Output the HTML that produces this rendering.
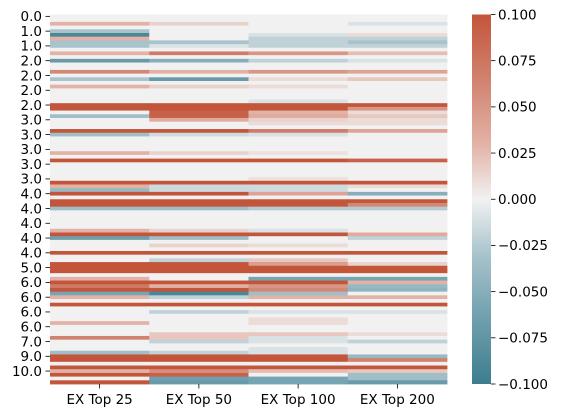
<!DOCTYPE html>
<html><head><meta charset="utf-8"><style>
html,body{margin:0;padding:0;background:#fff;}
svg{display:block;font-family:"DejaVu Sans","Liberation Sans",sans-serif;}
</style></head><body>
<svg id="chart" width="561" height="418">
<defs><linearGradient id="cbg" x1="0" y1="1" x2="0" y2="0">
<stop offset="0" stop-color="rgb(61,125,142)"/><stop offset="0.2" stop-color="rgb(118,164,178)"/>
<stop offset="0.35" stop-color="rgb(168,195,204)"/><stop offset="0.5" stop-color="rgb(241,241,241)"/>
<stop offset="0.65" stop-color="rgb(226,178,166)"/><stop offset="0.8" stop-color="rgb(211,136,118)"/>
<stop offset="1" stop-color="rgb(195,85,58)"/></linearGradient></defs>
<g id="cells"></g>
<g id="yaxis"></g>
<g id="xaxis"></g>
<rect x="472" y="14.5" width="19" height="369.5" fill="url(#cbg)"/>
<g id="cbaxis"></g>
</svg>
<script>
const columns = ["EX Top 25","EX Top 50","EX Top 100","EX Top 200"];
const yTickLabels = ["0.0","1.0","1.0","2.0","2.0","2.0","2.0","3.0","3.0","3.0","3.0","3.0","4.0","4.0","4.0","4.0","4.0","5.0","6.0","6.0","6.0","6.0","7.0","9.0","10.0"];
const cbTicks = [0.1,0.075,0.05,0.025,0,-0.025,-0.05,-0.075,-0.1];
const cbTickLabels = ["0.100","0.075","0.050","0.025","0.000","\u22120.025","\u22120.050","\u22120.075","\u22120.100"];
// sparse rows: [rowIndex, col0, col1, col2, col3]; other rows are 0
const nonZeroRows = [
[2,0.03,0.015,0,-0.01],[4,-0.03,0,0,0],[5,-0.09,0,-0.01,0.01],[6,0.03,0,-0.02,-0.02],
[7,-0.03,-0.03,-0.02,-0.03],[8,-0.03,-0.01,-0.02,-0.02],[10,0.03,0.07,0.05,0.025],
[12,-0.07,-0.05,-0.02,-0.01],[15,0.06,0.03,0.05,0.04],[17,-0.03,-0.07,0.01,0.02],
[19,0.03,0.015,0.01,0],[23,0,0,-0.01,0],[24,0.1,0.1,0.1,0.1],
[25,0.1,0.1,0.1,0.05],[26,0,0.09,0.03,0.01],[27,-0.035,0.09,0.035,0.02],[28,0,0.035,0.015,0.01],
[29,0,0,0.01,0.01],[31,0.1,0.1,0.07,0.04],[32,-0.035,-0.015,-0.01,0],[37,0.03,0.015,0.008,0],
[39,0.1,0.1,0.1,0.09],[44,0,0,0.008,0],[45,0.1,0.1,0.1,0.1],[46,0.03,-0.015,-0.015,0.01],
[47,-0.04,-0.015,-0.015,0],[48,0.1,0.1,0.04,-0.05],
[50,0.1,0.1,0.1,0.1],[51,0.1,0.1,0.1,0.06],[52,-0.035,-0.035,-0.025,-0.025],
[58,0.03,0.015,-0.01,0],[59,0.1,0.1,0.1,0.035],[60,-0.065,-0.035,0,-0.02],[62,0,0.015,0.01,0],
[64,0.1,0.1,0.1,0.1],[66,0,-0.02,0.02,0],[67,0.1,0.1,0.045,0.015],[68,0.1,0.1,0.1,0.1],
[69,0.1,0.1,0.1,0.1],[71,0.03,0,-0.06,-0.06],[72,0.1,0.1,0.1,0.03],[73,0.07,0.03,0.05,-0.04],
[74,0.1,0.1,0.06,-0.045],[75,-0.06,-0.09,-0.035,0],[76,0.03,-0.02,0.03,0.03],[78,0.1,0.1,0.1,0.1],
[80,0,-0.02,-0.01,-0.01],[82,0,0,0.01,0],[83,0.03,0,0.01,0],[86,0,0.02,0.02,0.01],
[87,0.065,0.02,-0.01,0],[88,0,-0.02,-0.01,-0.02],[90,0,0,-0.01,0],[91,-0.035,-0.02,-0.01,0],
[92,0.1,0.1,0.1,-0.04],[93,0.1,0.1,0.1,0.065],[95,0.1,0.1,0.1,0.1],[96,0.03,0.055,0.025,0.02],
[97,0.1,0.09,0,-0.035],[98,0,-0.065,-0.06,-0.035],[99,0.1,-0.07,-0.06,-0.07]
];
const nRows = 100;
const X0=50, X1=447, Y0=14.5, Y1=384, VMIN=-0.1, VMAX=0.1;
const colW=(X1-X0)/columns.length, rowH=(Y1-Y0)/nRows;
const xScale=c=>X0+c*colW, yScale=r=>Y0+r*rowH;
const cbScale=v=>Y1-(v-VMIN)/(VMAX-VMIN)*(Y1-Y0);
const stops=[[-1,[61,125,142]],[-0.6,[118,164,178]],[-0.3,[168,195,204]],[0,[241,241,241]],[0.3,[226,178,166]],[0.6,[211,136,118]],[1,[195,85,58]]];
function color(v){let t=Math.max(-1,Math.min(1,v/VMAX));for(let i=0;i<stops.length-1;i++){const[a,ca]=stops[i],[b,cb]=stops[i+1];if(t<=b){const f=(t-a)/(b-a);return `rgb(${ca.map((x,k)=>Math.round(x+(cb[k]-x)*f)).join(',')})`;}}return 'rgb(195,85,58)';}
const NS="http://www.w3.org/2000/svg";
function mk(tag,attrs,parent){const e=document.createElementNS(NS,tag);for(const k in attrs)e.setAttribute(k,attrs[k]);parent.appendChild(e);return e;}
const values=[];for(let r=0;r<nRows;r++)values.push([0,0,0,0]);
nonZeroRows.forEach(row=>{values[row[0]]=row.slice(1);});
const cells=document.getElementById('cells');
for(let r=0;r<nRows;r++)for(let c=0;c<columns.length;c++){
 const e=mk('rect',{x:xScale(c),y:yScale(r),width:colW+0.4,height:rowH+0.4,fill:color(values[r][c])},cells);
 
 
}
const ya=document.getElementById('yaxis');
yTickLabels.forEach((lab,k)=>{const y=yScale(4*k+0.5);
 mk('line',{x1:45.5,x2:50,y1:y,y2:y,stroke:'#000','stroke-width':0.8},ya);
 const t=mk('text',{x:42,y:y+4.8,'text-anchor':'end','font-size':13.5,fill:'#000'},ya);t.textContent=lab;
 
 
});
const xa=document.getElementById('xaxis');
columns.forEach((lab,c)=>{const x=xScale(c+0.5);
 mk('line',{x1:x,x2:x,y1:384,y2:388.5,stroke:'#000','stroke-width':0.8},xa);
 const t=mk('text',{x:x,y:404,'text-anchor':'middle','font-size':13.5,fill:'#000'},xa);t.textContent=lab;
 
 
});
const cba=document.getElementById('cbaxis');
cbTicks.forEach((v,i)=>{const y=cbScale(v);
 mk('line',{x1:491,x2:495.5,y1:y,y2:y,stroke:'#000','stroke-width':0.8},cba);
 const t=mk('text',{x:498,y:y+4.8,'font-size':13.5,fill:'#000'},cba);t.textContent=cbTickLabels[i];
 
 
});
</script>
</body></html>
